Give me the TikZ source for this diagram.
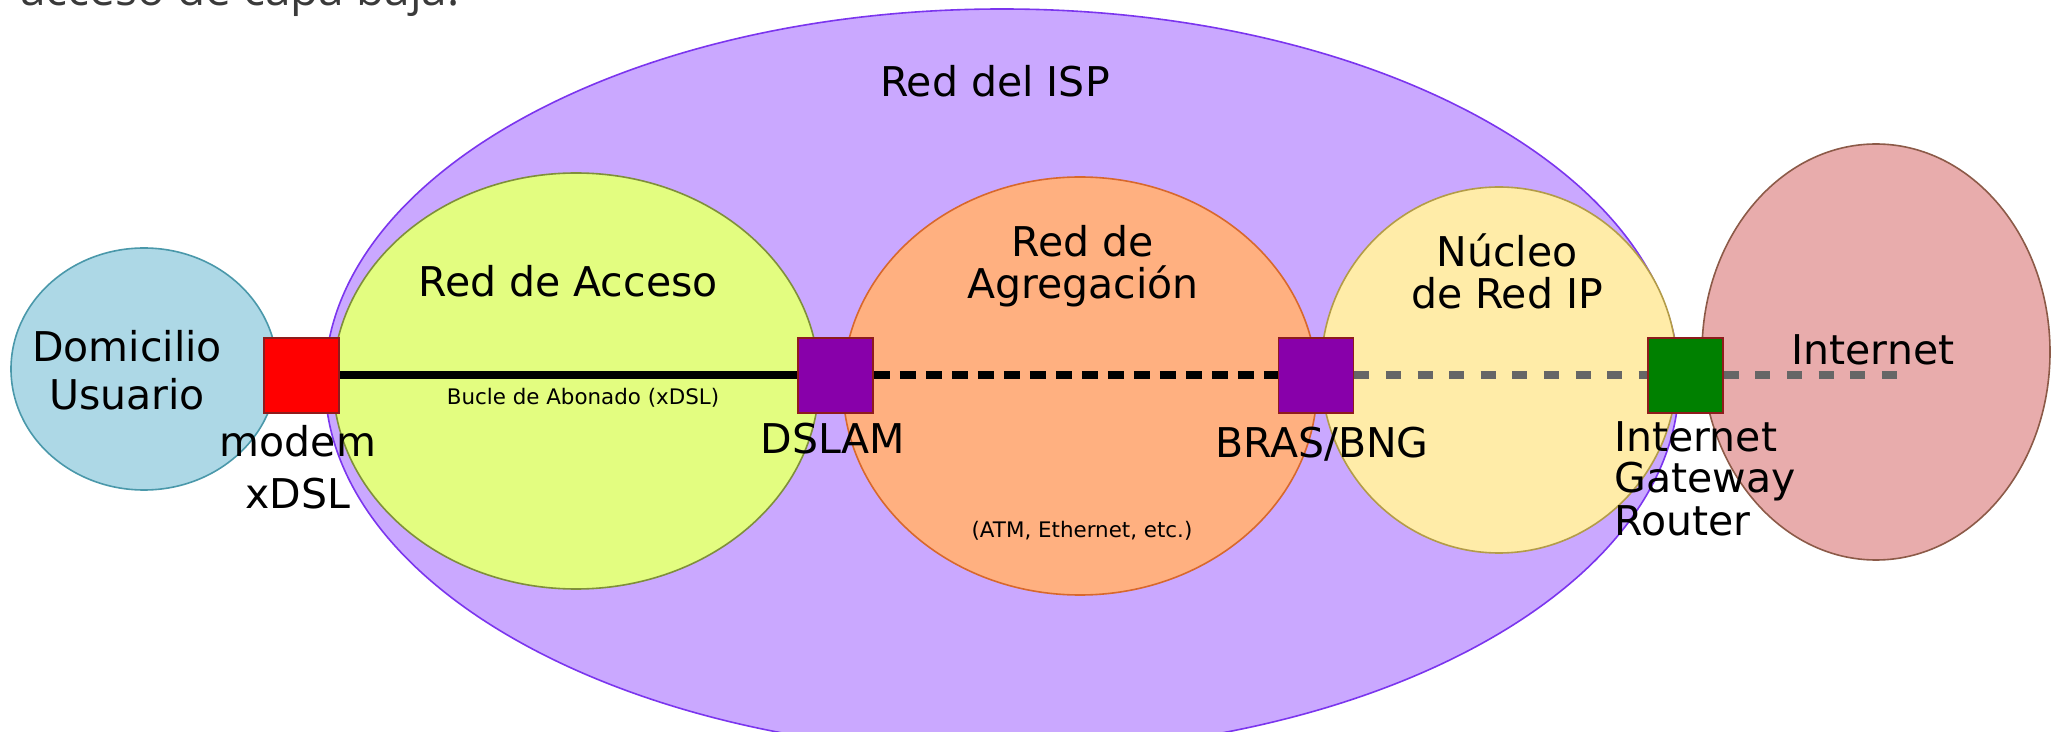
\documentclass[tikz,border=0pt]{standalone}
\usepackage{fontspec}
\setmainfont{DejaVu Sans}
\newfontfamily\headfont{Open Sans}
\usetikzlibrary{shapes.geometric}

\definecolor{ispfill}{HTML}{CAA8FF}
\definecolor{ispline}{HTML}{7B35EE}
\definecolor{homefill}{HTML}{ADD8E6}
\definecolor{homeline}{HTML}{4A98AA}
\definecolor{accfill}{HTML}{E3FD80}
\definecolor{accline}{HTML}{7F8F3A}
\definecolor{aggfill}{HTML}{FFB080}
\definecolor{aggline}{HTML}{D8682C}
\definecolor{corefill}{HTML}{FFECA8}
\definecolor{coreline}{HTML}{B39C48}
\definecolor{netfill}{HTML}{E8ACAC}
\definecolor{netline}{HTML}{8C5A48}
\definecolor{boxline}{HTML}{8E1C1C}
\definecolor{dslamviolet}{HTML}{8800AA}
\definecolor{gwgreen}{HTML}{008000}
\definecolor{linkgray}{HTML}{666666}
\definecolor{headgray}{HTML}{3A3A3A}

% regions at the back, links above them, equipment on top
\pgfdeclarelayer{regions}
\pgfdeclarelayer{links}
\pgfsetlayers{regions,links,main}

\begin{document}
\begin{tikzpicture}[x=0.5pt, y=-0.5pt,
  region/.style={ellipse, inner sep=0pt, line width=0.8pt},
  device/.style={rectangle, minimum size=37.5pt, inner sep=0pt, line width=0.8pt, draw=boxline},
  big/.style={font=\fontsize{20.5}{21}\selectfont, inner sep=0pt},
  small/.style={font=\fontsize{10.7}{12}\selectfont, inner sep=0pt},
  solidlink/.style={line width=4pt, black},
  blackdash/.style={line width=4pt, black, dash pattern=on 8pt off 5pt},
  graydash/.style={line width=4pt, linkgray, dash pattern=on 7.5pt off 8.3pt}]

\clip (0,0) rectangle (2051,732);

% line of running text above the figure
\node[anchor=base west, inner sep=0pt, text=headgray,
      font=\headfont\fontsize{23}{26}\selectfont] (caption) at (20,6) {acceso de capa baja.};

% network regions
\begin{pgfonlayer}{regions}
\node[region, fill=ispfill, draw=ispline, minimum width=677pt, minimum height=372pt] (isp) at (1002,381) {};
\node[region, fill=homefill, draw=homeline, minimum width=133pt, minimum height=121pt] (home) at (144,369) {};
\node[region, fill=netfill, draw=netline, minimum width=174pt, minimum height=208pt] (inet) at (1876,352) {};
\node[region, fill=accfill, draw=accline, minimum width=243pt, minimum height=208pt] (access) at (576,381) {};
\node[region, fill=aggfill, draw=aggline, minimum width=237pt, minimum height=209pt] (agg) at (1080,386) {};
\node[region, fill=corefill, draw=coreline, minimum width=178pt, minimum height=183pt] (core) at (1499,370) {};
\end{pgfonlayer}

% equipment
\node[device, fill=red] (modem) at (301.5,375.5) {};
\node[device, fill=dslamviolet] (dslam) at (835.5,375.5) {};
\node[device, fill=dslamviolet] (bras) at (1316,375.5) {};
\node[device, fill=gwgreen] (gw) at (1685.5,375.5) {};
\coordinate (netend) at (1908,375.5);

% links, kept under the equipment boxes
\begin{pgfonlayer}{links}
\draw[solidlink] (modem.east) -- (dslam.west);
\draw[blackdash] (dslam.east) -- (bras.west);
\draw[graydash] (bras.east) -- (gw.west);
\draw[graydash] (gw.east) -- (netend);
\end{pgfonlayer}

% region labels (base = baseline of the last line)
\node[big, anchor=base] (ispl) at (995,97) {Red del ISP};
\node[big, anchor=base, align=center, font=\fontsize{20.5}{24.5}\selectfont] (homel) at (127,410) {Domicilio\\Usuario};
\node[big, anchor=base] (accl) at (568,297) {Red de Acceso};
\node[big, anchor=base, align=center] (aggl) at (1083,299) {Red de\\Agregación};
\node[big, anchor=base, align=center] (corel) at (1507,309) {Núcleo\\de Red IP};
\node[big, anchor=base] (inetl) at (1873,365) {Internet};

% equipment labels
\node[big, anchor=base, align=center, font=\fontsize{20.5}{26}\selectfont] (modeml) at (298,509) {modem\\xDSL};
\node[big, anchor=base] (dslaml) at (833,454) {DSLAM};
\node[big, anchor=base] (brasl) at (1322,458) {BRAS/BNG};
\node[big, anchor=base west, align=left] (gwl) at (1614,535) {Internet\\Gateway\\Router};

% link annotations
\node[small, anchor=base] (loop) at (583,405) {Bucle de Abonado (xDSL)};
\node[small, anchor=base] (aggnote) at (1082,538) {(ATM, Ethernet, etc.)};
\end{tikzpicture}
\end{document}
